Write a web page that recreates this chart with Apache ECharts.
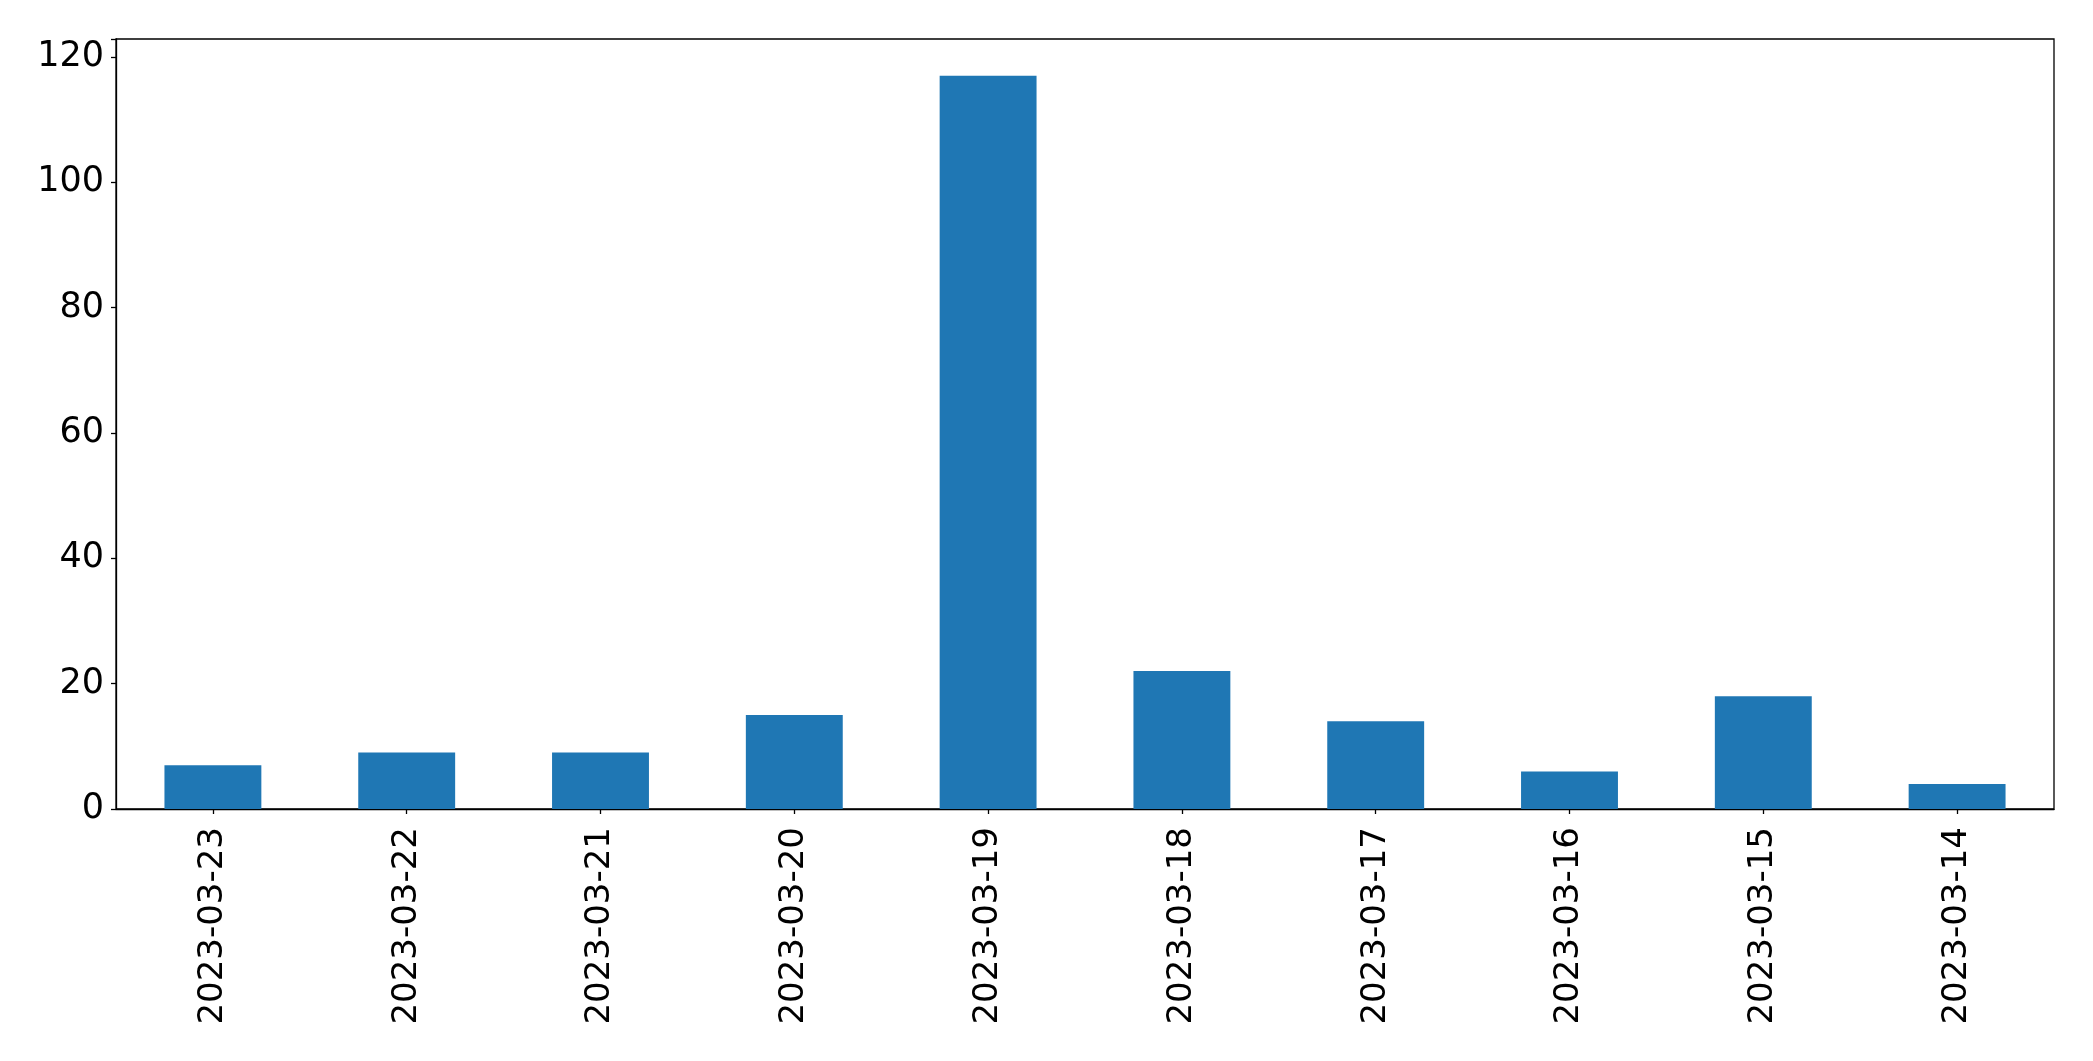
<!DOCTYPE html>
<html>
<head>
<meta charset="utf-8">
<script src="https://cdn.jsdelivr.net/npm/echarts@6/dist/echarts.min.js"></script>
<style>html,body{margin:0;padding:0;background:#fff;}#c{width:2093px;height:1061px;}</style>
</head>
<body>
<div id="c"></div>
<script>
const categories = ["2023-03-23","2023-03-22","2023-03-21","2023-03-20","2023-03-19","2023-03-18","2023-03-17","2023-03-16","2023-03-15","2023-03-14"];
const values = [7, 9, 9, 15, 117, 22, 14, 6, 18, 4];
const yTicks = [0, 20, 40, 60, 80, 100, 120];

const chart = echarts.init(document.getElementById('c'), null, {renderer: 'canvas'});
const font = 'DejaVu Sans';
chart.setOption({
  animation: false,
  grid: {left: 116, top: 39, right: 39, bottom: 252, show: true, borderColor: '#000', borderWidth: 1.3, backgroundColor: 'transparent'},
  xAxis: {
    type: 'category',
    data: categories,
    axisLine: {show: true, lineStyle: {color: '#000', width: 1.3}},
    axisTick: {show: true, alignWithLabel: true, length: 5, lineStyle: {color: '#000', width: 1.3}},
    axisLabel: {rotate: 90, margin: 18, fontFamily: font, fontSize: 34, color: '#000'},
    splitLine: {show: false}
  },
  yAxis: {
    type: 'value',
    min: 0,
    max: 122.85,
    interval: 20,
    axisLine: {show: true, lineStyle: {color: '#000', width: 1.3}},
    axisTick: {show: true, length: 5, lineStyle: {color: '#000', width: 1.3}},
    axisLabel: {margin: 12, fontFamily: font, fontSize: 35, color: '#000', padding: [5, 0, 0, 0],
      formatter: function (v) { return yTicks.indexOf(v) >= 0 ? String(v) : ''; }},
    splitLine: {show: false}
  },
  series: [{
    type: 'bar',
    data: values,
    barWidth: '50%',
    itemStyle: {color: '#1f77b4'}
  }]
});
</script>
</body>
</html>
